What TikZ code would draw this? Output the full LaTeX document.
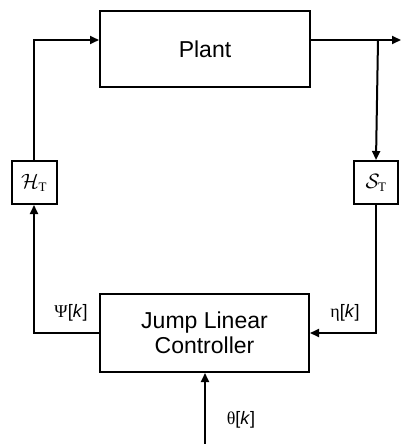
\documentclass[tikz,border=0pt]{standalone}
\usepackage{fontspec}
\setmainfont{Liberation Sans}
\newfontfamily\greekfont{Liberation Serif}
\usetikzlibrary{arrows.meta}
\begin{document}
\begin{tikzpicture}[x=1pt,y=-1pt,
  blk/.style={draw,line width=2pt,inner sep=0pt,font=\fontsize{23}{27}\selectfont,align=center},
  smallblk/.style={draw,line width=2pt,inner sep=0pt,font=\fontsize{22}{24}\selectfont},
  wire/.style={line width=2pt},
  arr/.style={wire,-{Triangle[length=9pt,width=8pt]}},
  lbl/.style={font=\fontsize{18}{20}\selectfont}]
\useasboundingbox (0,0) rectangle (401,444);
\node[blk,minimum width=210pt,minimum height=76pt] (plant) at (205,49) {Plant};
\node[blk,minimum width=209pt,minimum height=78pt] (ctrl) at (204.5,333) {Jump Linear\\[-2pt]Controller};
\node[smallblk,minimum width=45pt,minimum height=43pt] (H) at (34,182.5) {$\mathcal{H}_{\hbox{\greekfont\fontsize{13}{13}\selectfont T}}$};
\node[smallblk,minimum width=44pt,minimum height=43pt] (S) at (376,182.5) {$\mathcal{S}_{\hbox{\greekfont\fontsize{13}{13}\selectfont T}}$};
\coordinate (out) at (401,40);
\coordinate (br) at (378,40);
\coordinate (th) at (205,444);
\draw[arr] (plant.east |- out) -- (out);
\draw[arr] (br) -- (S.north);
\draw[arr] (S.south) |- (ctrl.east);
\draw[arr] (ctrl.west) -| (H.south);
\draw[arr] (H.north) |- (plant.west |- out);
\draw[arr] (th) -- (ctrl.south -| th);
\node[lbl] (psi) at (71,313) {{\greekfont Ψ}[\textit{k}]};
\node[lbl] (eta) at (345,313) {{\greekfont η}[\textit{k}]};
\node[lbl] (theta) at (241,420) {{\greekfont θ}[\textit{k}]};
\end{tikzpicture}
\end{document}
